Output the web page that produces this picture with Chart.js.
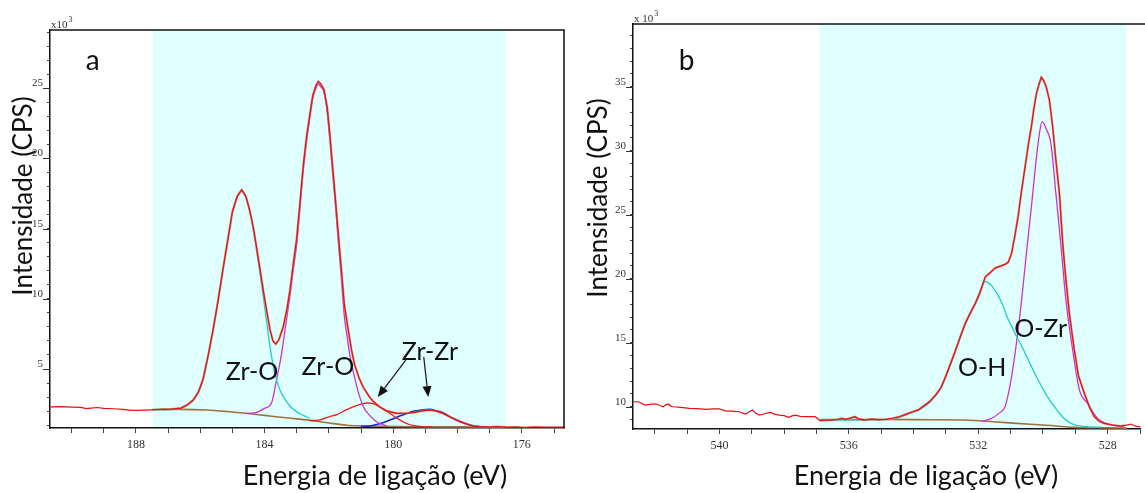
<!DOCTYPE html>
<html><head><meta charset="utf-8">
<script src="https://cdn.jsdelivr.net/npm/chart.js@4.4.1/dist/chart.umd.min.js"></script>
<style>
html,body{margin:0;padding:0;background:#fff;width:1145px;height:493px;overflow:hidden}
#ca{position:absolute;left:0;top:0}
#cb{position:absolute;left:575px;top:0}
</style></head><body>
<canvas id="ca" width="575" height="493"></canvas>
<canvas id="cb" width="570" height="493"></canvas>
<script>
// ---------- Panel a : Zr 3d ----------
const zrRawE = [190.67,190.3,190.0,189.7,189.55,189.4,189.2,189.0,188.7,188.4,188.2,188.0,187.8,187.5,187.2,186.9,186.6,186.4,186.22,186.05,185.91,185.75,185.6,185.45,185.3,185.15,185.0,184.85,184.71,184.58,184.46,184.35,184.25,184.14,184.04,183.93,183.83,183.74,183.65,183.55,183.42,183.31,183.21,183.1,183.0,182.9,182.8,182.69,182.6,182.5,182.4,182.33,182.25,182.15,182.05,181.97,181.88,181.8,181.71,181.62,181.52,181.42,181.3,181.2,181.05,180.93,180.75,180.6,180.42,180.2,179.9,179.6,179.38,179.1,178.86,178.65,178.45,178.2,177.93,177.7,177.52,177.3,177.0,176.8,176.5,176.2,175.9,175.6,175.3,175.0,174.7];
const zrRawI = [2.30,2.32,2.29,2.27,2.18,2.22,2.26,2.20,2.17,2.12,2.08,2.05,2.07,2.09,2.12,2.15,2.22,2.45,2.79,3.4,4.3,6.0,7.8,9.8,12.0,14.1,16.2,17.3,17.76,17.3,16.3,15.1,13.7,12.1,10.6,9.1,7.8,7.0,6.78,7.1,8.0,9.2,10.6,12.6,14.3,16.8,19.4,21.6,23.0,24.5,25.2,25.48,25.3,24.9,23.6,21.7,19.3,17.2,14.7,12.3,9.6,8.1,6.4,5.3,4.3,3.7,3.05,2.65,2.3,2.02,1.84,1.85,1.9,2.02,2.08,2.0,1.84,1.55,1.25,1.08,0.94,0.9,0.87,0.9,0.86,0.88,0.85,0.88,0.86,0.87,0.86];
const zrO1E = [187.5,186.9,186.6,186.4,186.22,186.05,185.91,185.75,185.6,185.45,185.3,185.15,185.0,184.85,184.71,184.58,184.46,184.35,184.25,184.14,184.04,183.93,183.83,183.68,183.52,183.35,183.21,183.0,182.8,182.6];
const zrO1I = [2.1,2.12,2.2,2.42,2.75,3.35,4.25,5.95,7.75,9.75,11.95,14.05,16.15,17.25,17.72,17.25,16.2,14.95,13.5,11.8,10.2,8.3,6.6,4.7,3.5,2.8,2.35,1.95,1.7,1.5];
const zrO2E = [184.6,184.3,184.0,183.78,183.63,183.47,183.37,183.21,183.1,183.0,182.9,182.8,182.69,182.6,182.5,182.4,182.33,182.25,182.15,182.05,181.97,181.88,181.8,181.71,181.62,181.52,181.42,181.35,181.19,181.04,180.9,180.73,180.55,180.42,180.2];
const zrO2I = [1.84,1.88,2.2,2.6,4.2,6.1,7.7,10.2,12.2,13.9,16.5,19.1,21.3,22.8,24.3,25.0,25.3,25.1,24.7,23.3,21.4,18.9,16.8,14.2,11.7,8.8,7.1,6.0,4.3,3.0,2.2,1.7,1.3,1.12,0.95];
const zrZr1E = [182.6,182.28,182.0,181.75,181.5,181.25,181.0,180.8,180.65,180.42,180.25,180.1,179.9,179.69,179.5,179.38,179.1,178.8];
const zrZr1I = [1.32,1.38,1.6,1.75,2.05,2.3,2.5,2.58,2.55,2.31,2.05,1.84,1.52,1.24,1.05,0.98,0.9,0.88];
const zrZr2E = [181.0,180.73,180.4,180.1,179.85,179.58,179.35,179.17,178.95,178.86,178.7,178.45,178.14,177.93,177.72,177.5,177.3,177.0];
const zrZr2I = [0.88,0.94,1.12,1.37,1.6,1.84,2.0,2.07,2.12,2.13,2.05,1.88,1.49,1.28,1.08,0.95,0.89,0.86];
const zrBgE = [187.5,186.6,185.8,185.2,184.6,184.0,183.5,183.0,182.5,182.0,181.45,181.0,180.42,179.4,178.0,176.5];
const zrBgI = [2.12,2.13,2.08,1.98,1.85,1.7,1.57,1.45,1.32,1.16,1.0,0.95,0.92,0.89,0.88,0.87];
const zrFitRange = [187.47, 176.5];
const zrXRange = [174.69, 190.67];
const zrYRange = [0.8, 29.15];

// ---------- Panel b : O 1s ----------
const oRawE = [542.67,542.5,542.3,542.1,541.94,541.84,541.74,541.65,541.58,541.5,541.43,541.2,540.92,540.7,540.41,540.2,540.0,539.8,539.6,539.39,539.28,539.18,539.08,538.98,538.88,538.77,538.6,538.42,538.3,538.16,538.0,537.86,537.75,537.65,537.5,537.34,537.2,537.04,536.89,536.7,536.53,536.35,536.22,536.1,535.95,535.81,535.7,535.51,535.3,535.1,534.85,534.65,534.44,534.25,534.03,533.85,533.72,533.5,533.32,533.15,533.01,532.85,532.7,532.55,532.4,532.25,532.09,531.95,531.78,531.62,531.47,531.3,531.15,531.07,530.97,530.87,530.76,530.66,530.56,530.45,530.35,530.28,530.2,530.12,530.05,529.98,529.9,529.8,529.7,529.6,529.49,529.39,529.3,529.18,529.03,528.9,528.72,528.55,528.41,528.25,528.1,527.85,527.59,527.45,527.28,527.15,527.08,526.98];
const oRawI = [10.39,10.39,10.13,10.2,10.21,10.1,10.0,10.15,10.21,10.05,10.0,9.95,9.87,9.85,9.8,9.83,9.84,9.66,9.65,9.61,9.5,9.43,9.6,9.74,9.5,9.35,9.45,9.56,9.42,9.35,9.3,9.17,9.28,9.35,9.25,9.22,9.23,9.22,8.91,8.95,8.96,9.0,9.09,9.02,9.12,9.22,9.05,8.96,9.03,9.0,9.01,9.1,9.22,9.4,9.61,9.75,10.0,10.4,10.91,11.5,12.34,13.4,14.43,15.5,16.52,17.3,18.08,18.9,20.15,20.5,20.85,21.0,21.15,21.3,21.98,23.3,25.0,26.9,28.6,30.5,32.0,33.3,34.48,35.2,35.73,35.5,35.0,33.96,31.88,29.27,26.67,22.8,20.2,17.2,14.43,12.4,11.05,9.9,9.22,8.85,8.7,8.57,8.49,8.55,8.65,8.5,8.44,8.45];
const oHE = [536.9,535.5,535.0,534.6,534.3,534.03,533.72,533.5,533.32,533.15,533.01,532.85,532.7,532.55,532.4,532.25,532.09,531.95,531.85,531.78,531.7,531.6,531.42,531.25,531.11,530.95,530.81,530.65,530.5,530.35,530.2,530.0,529.79,529.6,529.4,529.2,528.97,528.7,528.46,528.2];
const oHI = [8.95,8.97,9.0,9.05,9.3,9.55,9.9,10.35,10.85,11.45,12.3,13.35,14.4,15.45,16.45,17.25,18.0,18.8,19.6,19.77,19.7,19.5,18.86,18.0,17.03,16.2,15.47,14.7,13.91,13.1,12.34,11.4,10.52,9.85,9.22,8.8,8.55,8.45,8.4,8.4];
const oZrE = [531.9,531.58,531.35,531.17,531.07,530.97,530.82,530.66,530.51,530.35,530.2,530.1,530.02,529.9,529.75,529.6,529.44,529.29,529.08,528.87,528.62,528.31,528.0,527.7,527.5];
const oZrI = [8.85,9.1,9.5,10.0,11.0,12.34,14.95,18.33,22.0,25.8,29.5,31.5,32.27,31.7,30.5,26.67,22.5,18.33,14.43,11.3,10.26,9.09,8.65,8.5,8.45];
const oBgE = [536.9,535.5,534.85,533.5,532.44,531.52,530.81,529.99,528.97,528.0,527.41];
const oBgI = [9.0,9.0,9.0,8.98,8.96,8.83,8.7,8.57,8.39,8.35,8.33];
const oFitRange = [536.91, 527.41];
const oXRange = [526.98, 542.67];
const oYRange = [8.26, 39.9];

// ---------- texts ----------
const xTitle = 'Energia de ligação (eV)';
const yTitle = 'Intensidade (CPS)';
const zrLabels = [{t:'Zr-O', x:184.39, y:4.22},{t:'Zr-O', x:182.03, y:4.57},{t:'Zr-Zr', x:178.86, y:5.64}];
const zrArrows = [{x0:179.61,y0:5.64,x1:180.48,y1:3.0},{x0:179.05,y0:5.86,x1:178.91,y1:3.0}];
const oLabels = [{t:'O-H', x:531.88, y:12.4},{t:'O-Zr', x:530.07, y:15.45}];

const SANS = 'Lato, "Open Sans", sans-serif';
const SERIF = '"Liberation Serif", "DejaVu Serif", serif';

function pts(E, I) { return E.map((e, i) => ({x: e, y: I[i]})); }
function within(E, I, r) {
  const out = [];
  E.forEach((e, i) => { if (e <= r[0] && e >= r[1]) out.push({x: e, y: I[i]}); });
  return out;
}
function line(data, color, width, order, smooth) {
  return {data, borderColor: color, borderWidth: width, order, pointRadius: 0, fill: false,
          tension: smooth ? 0.4 : 0, cubicInterpolationMode: smooth ? 'monotone' : 'default'};
}

const deco = {
  id: 'deco',
  beforeDraw(chart, args, o) {
    const {ctx, chartArea: a, scales: {x}} = chart;
    const x0 = x.getPixelForValue(o.fit[0]), x1 = x.getPixelForValue(o.fit[1]);
    ctx.save();
    ctx.fillStyle = '#e0ffff';
    ctx.fillRect(Math.min(x0,x1), a.top, Math.abs(x1-x0), a.bottom - a.top);
    ctx.restore();
  },
  afterDraw(chart, args, o) {
    const {ctx, chartArea: a, scales: {x, y}} = chart;
    ctx.save();
    // frame
    ctx.strokeStyle = '#111'; ctx.lineWidth = 1.5;
    ctx.beginPath();
    ctx.moveTo(a.left, a.top); ctx.lineTo(a.right + (o.rightBorder ? 0 : 10), a.top);
    if (o.rightBorder) { ctx.lineTo(a.right, a.bottom); }
    ctx.stroke();
    // major y ticks
    ctx.strokeStyle = '#333'; ctx.lineWidth = 1;
    for (let v = Math.ceil(y.min); v <= y.max; v++) {
      if (v % 5 !== 0) continue;
      const py = Math.round(y.getPixelForValue(v)) + 0.5;
      ctx.beginPath(); ctx.moveTo(a.left - 7, py); ctx.lineTo(a.left, py); ctx.stroke();
    }
    // multiplier
    ctx.fillStyle = '#333';
    ctx.textAlign = 'left'; ctx.textBaseline = 'alphabetic';
    ctx.font = '11px ' + SERIF;
    ctx.fillText(o.mult, a.left + 1, a.top - 2);
    const w = ctx.measureText(o.mult).width;
    ctx.font = '8px ' + SERIF;
    ctx.fillText('3', a.left + 1 + w + 1, a.top - 8);
    // axis titles
    ctx.fillStyle = '#111';
    ctx.textAlign = 'center';
    ctx.font = '27px ' + SANS;
    ctx.fillText(xTitle, o.xTitlePos[0], o.xTitlePos[1]);
    ctx.save();
    ctx.font = '26px ' + SANS;
    ctx.translate(o.yTitlePos[0], o.yTitlePos[1]);
    ctx.rotate(-Math.PI / 2);
    ctx.fillText(yTitle, 0, 0);
    ctx.restore();
    // panel letter
    ctx.font = '28px ' + SANS;
    ctx.fillText(o.letter.t, x.getPixelForValue(o.letter.x), y.getPixelForValue(o.letter.y));
    // peak labels
    ctx.font = '25px ' + SANS;
    o.labels.forEach(l => ctx.fillText(l.t, x.getPixelForValue(l.x), y.getPixelForValue(l.y)));
    // arrows
    ctx.strokeStyle = '#222'; ctx.fillStyle = '#111'; ctx.lineWidth = 1.3;
    o.arrows.forEach(ar => {
      const px0 = x.getPixelForValue(ar.x0), py0 = y.getPixelForValue(ar.y0);
      const px1 = x.getPixelForValue(ar.x1), py1 = y.getPixelForValue(ar.y1);
      const ang = Math.atan2(py1 - py0, px1 - px0), L = 11, W = 4.5;
      const bx = px1 - L * Math.cos(ang), by = py1 - L * Math.sin(ang);
      ctx.beginPath(); ctx.moveTo(px0, py0); ctx.lineTo(bx, by); ctx.stroke();
      ctx.beginPath();
      ctx.moveTo(px1, py1);
      ctx.lineTo(bx + W * Math.sin(ang), by - W * Math.cos(ang));
      ctx.lineTo(bx - W * Math.sin(ang), by + W * Math.cos(ang));
      ctx.closePath(); ctx.fill();
    });
    ctx.restore();
  }
};

function makePanel(id, p) {
  return new Chart(document.getElementById(id), {
    type: 'line',
    data: {datasets: p.datasets},
    options: {
      responsive: false, animation: false, devicePixelRatio: 1,
      layout: {padding: p.padding},
      plugins: {legend: {display: false}, tooltip: {enabled: false}, deco: p.deco},
      scales: {
        x: {
          type: 'linear', reverse: true, min: p.xr[0], max: p.xr[1],
          afterFit: s => { s.height = p.xh; },
          border: {display: true, color: '#111', width: 1.5},
          grid: {display: true, drawOnChartArea: false, drawTicks: true, tickLength: 5, color: '#444', tickColor: '#444'},
          ticks: {stepSize: 1, autoSkip: false, includeBounds: false, maxRotation: 0, minRotation: 0, padding: 5,
                  color: '#333', font: {family: SERIF, size: 12},
                  callback: v => (Math.round(v) % 4 === 0 ? String(Math.round(v)) : '')}
        },
        y: {
          type: 'linear', min: p.yr[0], max: p.yr[1],
          afterFit: s => { s.width = p.yw; },
          border: {display: true, color: '#111', width: 1.5},
          grid: {display: true, drawOnChartArea: false, drawTicks: true, tickLength: 3, color: '#444', tickColor: '#444'},
          ticks: {stepSize: 1, autoSkip: false, includeBounds: false, padding: 4, labelOffset: -5,
                  color: '#333', font: {family: SERIF, size: 11},
                  callback: v => (Math.round(v) % 5 === 0 ? String(Math.round(v)) : '')}
        }
      }
    },
    plugins: [deco]
  });
}

makePanel('ca', {
  xr: zrXRange, yr: zrYRange, xh: 65, yw: 50,
  padding: {left: 0, right: 11, top: 30, bottom: 0},
  datasets: [
    line(pts(zrRawE, zrRawI), '#e81010', 1.2, 0, false),
    line(within(zrRawE, zrRawI, zrFitRange), 'rgba(205,120,105,0.75)', 2.2, 1, false),
    line(pts(zrO1E, zrO1I), '#22cccc', 1.3, 3, true),
    line(pts(zrO2E, zrO2I), '#cc33cc', 1.3, 3, true),
    line(pts(zrZr1E, zrZr1I), '#e02020', 1.3, 3, true),
    line(pts(zrZr2E, zrZr2I), '#2020c8', 1.6, 3, true),
    line(pts(zrBgE, zrBgI), '#a07040', 1.6, 5, true)
  ],
  deco: {fit: zrFitRange, rightBorder: true, mult: 'x10',
         xTitlePos: [375, 485], yTitlePos: [32, 196],
         letter: {t: 'a', x: 189.34, y: 26.31},
         labels: zrLabels, arrows: zrArrows}
});

makePanel('cb', {
  xr: oXRange, yr: oYRange, xh: 64, yw: 58,
  padding: {left: 0, right: 0, top: 24, bottom: 0},
  datasets: [
    line(pts(oRawE, oRawI), '#e81010', 1.2, 0, false),
    line(within(oRawE, oRawI, oFitRange), 'rgba(205,120,105,0.75)', 2.2, 1, false),
    line(pts(oHE, oHI), '#22cccc', 1.3, 3, true),
    line(pts(oZrE, oZrI), '#cc33cc', 1.3, 3, true),
    line(pts(oBgE, oBgI), '#a07040', 1.6, 5, true)
  ],
  deco: {fit: oFitRange, rightBorder: false, mult: 'x 10',
         xTitlePos: [926 - 575, 485], yTitlePos: [607 - 575, 198],
         letter: {t: 'b', x: 541.01, y: 36.3},
         labels: oLabels, arrows: []}
});
</script>
</body></html>
